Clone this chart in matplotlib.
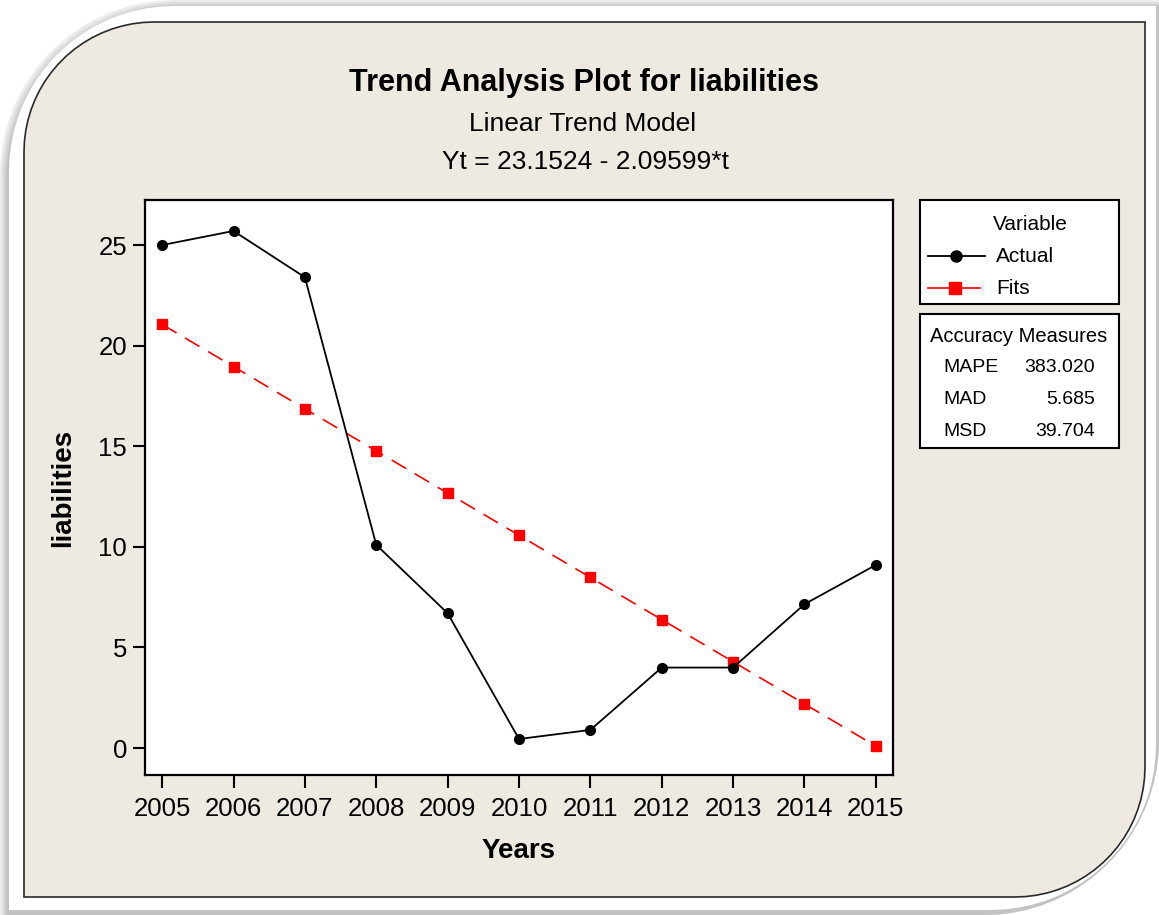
import numpy as np
import matplotlib.pyplot as plt
from matplotlib.path import Path
from matplotlib.patches import PathPatch, Rectangle
from matplotlib.lines import Line2D

years = [2005, 2006, 2007, 2008, 2009, 2010, 2011, 2012, 2013, 2014, 2015]
actual = [25.0, 25.7, 23.4, 10.1, 6.7, 0.45, 0.9, 4.0, 4.0, 7.15, 9.1]
fits = [21.056, 18.960, 16.864, 14.768, 12.672, 10.576, 8.480, 6.384, 4.288, 2.192, 0.096]
measure_names = ['MAPE', 'MAD', 'MSD']
measure_values = ['383.020', '5.685', '39.704']

W, H = 1159, 915
plt.rcParams['font.family'] = ['Liberation Sans', 'DejaVu Sans']

fig = plt.figure(figsize=(W / 100, H / 100), dpi=100, facecolor='white')


def fx(x):
    return x / W


def fy(y):
    return 1 - y / H


def panel(l, t, r, b, rad):
    # rounded top-left and bottom-right corners, pixel coords
    a1 = np.linspace(0, np.pi / 2, 20)
    a2 = np.linspace(np.pi, 1.5 * np.pi, 20)
    pts = [(l + rad, t), (r, t)]
    pts += [(r - rad + rad * np.cos(a), b - rad + rad * np.sin(a)) for a in a1]
    pts += [(l, b)]
    pts += [(l + rad + rad * np.cos(a), t + rad + rad * np.sin(a)) for a in a2]
    pts.append(pts[0])
    verts = [(fx(x), fy(y)) for x, y in pts]
    return Path(verts, closed=True)


# shadow layers, white frame, beige panel
for k, c in enumerate(['#ececec', '#dedede', '#cfcfcf', '#c2c2c2']):
    fig.add_artist(PathPatch(panel(k * 2, k * 2, 1159, 915, 175),
                             transform=fig.transFigure, fc=c, ec='none', zorder=-5))
fig.add_artist(PathPatch(panel(9, 6, 1156, 910, 165), transform=fig.transFigure,
                         fc='white', ec='none', zorder=-4))
fig.add_artist(PathPatch(panel(24, 22, 1145, 897, 130), transform=fig.transFigure,
                         fc='#eeeae1', ec='#2a2a2a', lw=1.2, zorder=-3))

ax = fig.add_axes([fx(145), fy(775), fx(893) - fx(145), fy(200) - fy(775)])
ax.set_facecolor('white')
ax.plot(years, actual, color='black', lw=1.3, marker='o', markersize=7, zorder=3)
ax.plot(years, fits, color='#ff0000', lw=1.2, ls=(0, (10, 6)), marker='s',
        markersize=7.5, zorder=2)

ax.set_xlim(2004.76, 2015.24)
ax.set_ylim(-1.34, 27.24)
ax.set_xticks(years)
ax.set_yticks([0, 5, 10, 15, 20, 25])
ax.tick_params(direction='out', length=9, width=1.5, labelsize=18.5)
ax.tick_params(axis='x', pad=7)
ax.tick_params(axis='y', pad=4)
for s in ax.spines.values():
    s.set_linewidth(1.6)
ax.set_xlabel('Years', fontsize=20, fontweight='bold', labelpad=12)
ax.set_ylabel('liabilities', fontsize=20, fontweight='bold', labelpad=16)

fig.text(fx(584), fy(83), 'Trend Analysis Plot for liabilities', fontsize=22,
         fontweight='bold', ha='center', va='center')
fig.text(fx(583), fy(124), 'Linear Trend Model', fontsize=19, ha='center', va='center')
fig.text(fx(585), fy(162), 'Yt = 23.1524 - 2.09599*t', fontsize=19, ha='center',
         va='center')

# legend box
fig.add_artist(Rectangle((fx(920), fy(304)), fx(1119) - fx(920), fy(200) - fy(304),
                         transform=fig.transFigure, fc='white', ec='black', lw=1.5))
fig.text(fx(1030), fy(224), 'Variable', fontsize=15, ha='center', va='center')
fig.add_artist(Line2D([fx(928), fx(985)], [fy(256), fy(256)], color='black', lw=1.3,
                      transform=fig.transFigure))
fig.add_artist(Line2D([fx(956)], [fy(256)], color='black', marker='o', markersize=8,
                      transform=fig.transFigure))
fig.add_artist(Line2D([fx(928), fx(980)], [fy(288), fy(288)], color='#ff0000', lw=1.2,
                      transform=fig.transFigure))
fig.add_artist(Line2D([fx(955)], [fy(288)], color='#ff0000', marker='s', markersize=9,
                      transform=fig.transFigure))
fig.text(fx(996), fy(256), 'Actual', fontsize=15, ha='left', va='center')
fig.text(fx(996), fy(288), 'Fits', fontsize=15, ha='left', va='center')

# accuracy box
fig.add_artist(Rectangle((fx(920), fy(448)), fx(1119) - fx(920), fy(314) - fy(448),
                         transform=fig.transFigure, fc='white', ec='black', lw=1.5))
fig.text(fx(1019), fy(336), 'Accuracy Measures', fontsize=14.5, ha='center', va='center')
for i, (n, v) in enumerate(zip(measure_names, measure_values)):
    y = fy(367 + 32 * i)
    fig.text(fx(943), y, n, fontsize=14, ha='left', va='center')
    fig.text(fx(1095), y, v, fontsize=14, ha='right', va='center')

fig.savefig('out.png', dpi=100, facecolor=fig.get_facecolor())
